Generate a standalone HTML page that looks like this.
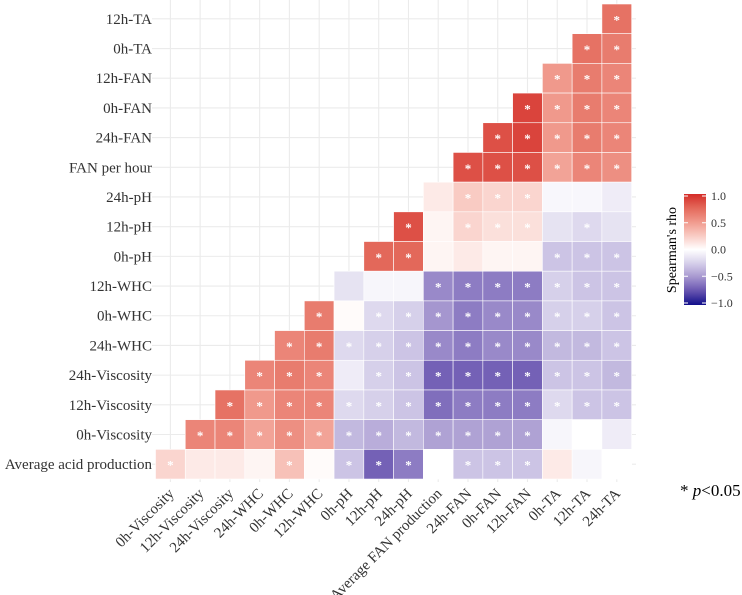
<!DOCTYPE html>
<html><head><meta charset="utf-8"><style>
html,body{margin:0;padding:0;background:#fff}
svg{display:block;font-family:"Liberation Serif",serif}
</style></head><body>
<svg id="chart" width="742" height="595" viewBox="0 0 742 595"></svg>
<script>
const rowLabels = ["12h-TA","0h-TA","12h-FAN","0h-FAN","24h-FAN","FAN per hour","24h-pH","12h-pH","0h-pH","12h-WHC","0h-WHC","24h-WHC","24h-Viscosity","12h-Viscosity","0h-Viscosity","Average acid production"];
const colLabels = ["0h-Viscosity","12h-Viscosity","24h-Viscosity","24h-WHC","0h-WHC","12h-WHC","0h-pH","12h-pH","24h-pH","Average FAN production","24h-FAN","0h-FAN","12h-FAN","0h-TA","12h-TA","24h-TA"];
// each row lists values for its visible columns (rightmost cells), top row first
const rhoRows = [
 [0.7],
 [0.7,0.65],
 [0.5,0.65,0.6],
 [0.9,0.5,0.65,0.6],
 [0.85,0.9,0.5,0.65,0.6],
 [0.85,0.85,0.85,0.45,0.6,0.55],
 [0.1,0.25,0.2,0.2,-0.04,-0.04,-0.1],
 [0.85,0.05,0.2,0.15,0.15,-0.15,-0.2,-0.15],
 [0.75,0.75,0.05,0.1,0.05,0.05,-0.3,-0.3,-0.3],
 [-0.15,-0.05,-0.05,-0.55,-0.6,-0.6,-0.6,-0.25,-0.3,-0.3],
 [0.65,0.02,-0.2,-0.25,-0.5,-0.6,-0.55,-0.55,-0.25,-0.25,-0.3],
 [0.6,0.65,-0.2,-0.25,-0.3,-0.55,-0.6,-0.55,-0.55,-0.35,-0.35,-0.3],
 [0.6,0.65,0.6,-0.1,-0.25,-0.3,-0.7,-0.7,-0.7,-0.7,-0.3,-0.3,-0.35],
 [0.7,0.5,0.6,0.6,-0.2,-0.25,-0.3,-0.65,-0.6,-0.6,-0.6,-0.2,-0.3,-0.3],
 [0.6,0.6,0.45,0.55,0.45,-0.35,-0.4,-0.35,-0.45,-0.45,-0.45,-0.45,-0.05,0.0,-0.1],
 [0.2,0.1,0.1,0.05,0.3,0.02,-0.3,-0.7,-0.6,0.0,-0.3,-0.3,-0.3,0.1,-0.05,0.0]
];
const sigRows = [
 [1],[1,1],[1,1,1],[1,1,1,1],[1,1,1,1,1],[1,1,1,1,1,1],
 [0,1,1,1,0,0,0],
 [1,0,1,1,1,0,1,0],
 [1,1,0,0,0,0,1,1,1],
 [0,0,0,1,1,1,1,1,1,1],
 [1,0,1,1,1,1,1,1,1,1,1],
 [1,1,1,1,1,1,1,1,1,1,1,1],
 [1,1,1,0,1,1,1,1,1,1,1,1,1],
 [1,1,1,1,1,1,1,1,1,1,1,1,1,1],
 [1,1,1,1,1,1,1,1,1,1,1,1,0,0,0],
 [1,0,0,0,1,0,1,1,1,0,1,1,1,0,0,0]
];
const legendTicks = [1.0,0.5,0.0,-0.5,-1.0];
const legendTickText = ["1.0","0.5","0.0","\u22120.5","\u22121.0"];

const NS="http://www.w3.org/2000/svg";
const svg=document.getElementById('chart');
function mk(t,a,p){const e=document.createElementNS(NS,t);for(const k in a)e.setAttribute(k,a[k]);(p||svg).appendChild(e);return e;}
const X0=155.5,Y0=4,CW=29.76,RH=29.69;
const xPos=c=>X0+c*CW;
const yPos=r=>Y0+r*RH;
const stops=[[-1,[16,14,138]],[-0.75,[104,84,176]],[-0.5,[165,150,207]],[-0.25,[214,208,234]],[0,[255,255,255]],[0.25,[249,203,195]],[0.5,[240,153,140]],[0.75,[227,104,90]],[1,[212,44,40]]];
function color(v){v=Math.max(-1,Math.min(1,v));for(let i=0;i<stops.length-1;i++){const[a,ca]=stops[i],[b,cb]=stops[i+1];if(v<=b){const t=(v-a)/(b-a);return 'rgb('+ca.map((x,j)=>Math.round(x+(cb[j]-x)*t)).join(',')+')';}}}

const grid=mk('g',{});


for(let c=0;c<16;c++)mk('line',{x1:xPos(c)+CW/2,x2:xPos(c)+CW/2,y1:0,y2:482,stroke:'#ebebeb','stroke-width':1.1},grid);
for(let r=0;r<16;r++)mk('line',{x1:152,x2:636,y1:yPos(r)+RH/2,y2:yPos(r)+RH/2,stroke:'#ebebeb','stroke-width':1.1},grid);

const cells=mk('g',{});


rhoRows.forEach((vals,r)=>{
  const start=16-vals.length;
  vals.forEach((v,i)=>{
    const c=start+i;
    const rc=mk('rect',{x:xPos(c),y:yPos(r),width:CW,height:RH,fill:color(v),stroke:'#fff','stroke-width':0.6},cells);
    
    
    if(sigRows[r][i]){
      const s=mk('text',{x:xPos(c)+CW/2,y:yPos(r)+RH/2+5.5,'text-anchor':'middle','font-size':13,fill:'#fff','font-weight':'bold'},cells);
      s.textContent='*';
      
      
    }
  });
});

rowLabels.forEach((l,r)=>{
  const t=mk('text',{x:152,y:yPos(r)+RH/2+5,'text-anchor':'end','font-size':15,fill:'#333'});
  t.textContent=l;
  
  
});
colLabels.forEach((l,c)=>{
  const x=xPos(c)+CW/2-3,y=487;
  const t=mk('text',{x:x,y:y,'text-anchor':'end','font-size':15,fill:'#333',dy:'0.7em',transform:'rotate(-45 '+x+' '+y+')'});
  t.textContent=l;
  
  
});

const defs=mk('defs',{});
const lg=mk('linearGradient',{id:'lg',x1:0,y1:0,x2:0,y2:1},defs);
for(let i=0;i<=20;i++){const v=1-i/10;mk('stop',{offset:(i/20),'stop-color':color(v)},lg);}
const leg=mk('g',{});


const LY0=194,LY1=305;
const ly=v=>LY0+2+(1-v)/2*(LY1-LY0-4);
mk('rect',{x:684,y:LY0,width:22,height:LY1-LY0,fill:'url(#lg)'},leg);
legendTicks.forEach((v,i)=>{
  mk('line',{x1:684,x2:688,y1:ly(v),y2:ly(v),stroke:'#fff'},leg);
  mk('line',{x1:702,x2:706,y1:ly(v),y2:ly(v),stroke:'#fff'},leg);
  const t=mk('text',{x:711,y:ly(v)+4,'font-size':12,fill:'#333'},leg);
  t.textContent=legendTickText[i];
  
  
});
const lt=mk('text',{x:676,y:250,'text-anchor':'middle','font-size':14,fill:'#000',transform:'rotate(-90 676 250)'},leg);
lt.textContent="Spearman's rho";



const note=mk('text',{x:680,y:496,'font-size':17,fill:'#000'});
note.innerHTML='* <tspan font-style="italic">p</tspan>&lt;0.05';


</script>
</body></html>
